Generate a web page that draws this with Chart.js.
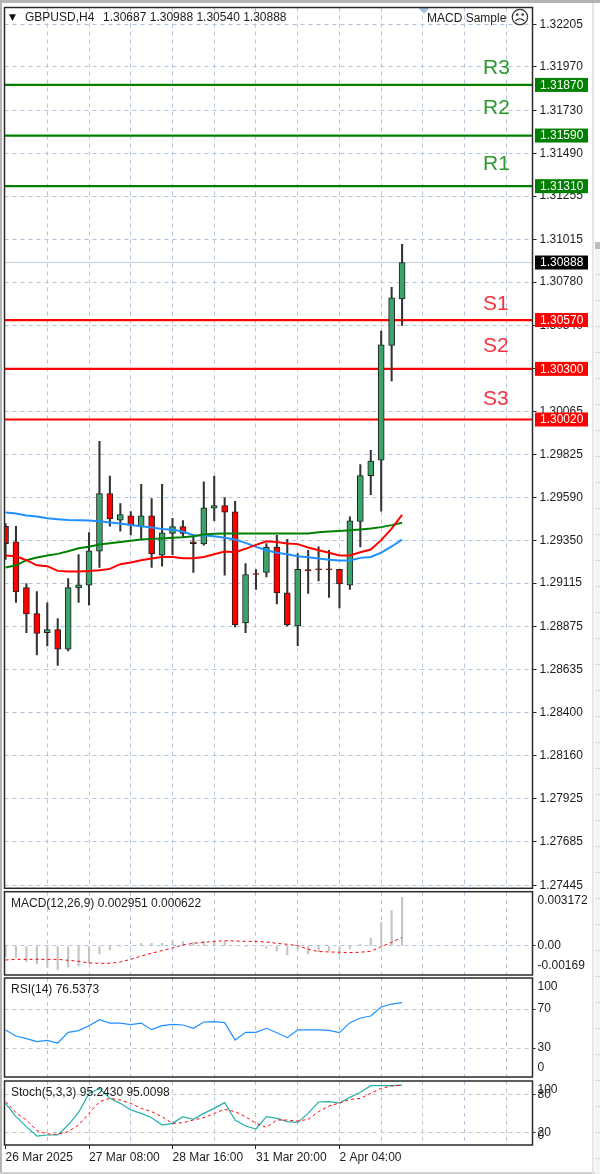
<!DOCTYPE html>
<html>
  <head>
    <meta charset="utf-8">
    <title>GBPUSD H4</title>
    <script src="https://cdn.jsdelivr.net/npm/chart.js@4"></script>
    <style>
      html, body { margin: 0; padding: 0; background: #fff; }
      #page { position: relative; width: 600px; height: 1174px; overflow: hidden; background: #fff; }
      #page canvas { position: absolute; left: 0; top: 0; }
      .edge { position: absolute; }
      #edge_top { left: 0; top: 0; width: 600px; height: 3px; background: #b4b4b4; }
      #edge_left { left: 0; top: 0; width: 2px; height: 1174px; background: #b4b4b4; }
      #edge_bottom { left: 0; top: 1172px; width: 600px; height: 2px; background: #d0d0d0; }
      #edge_right { left: 592px; top: 3px; width: 2px; height: 1171px; background: #e6e6e6; }
      #side { left: 595px; top: 249px; width: 5px; height: 925px; background: repeating-linear-gradient(#eef7f1 0, #eef7f1 25px, #d8dcd9 25px, #d8dcd9 26px); }
      #side_thumb { left: 595px; top: 242px; width: 5px; height: 7px; background: #bdbdbd; }
    </style>
  </head>
  <body>
    <div id="page">
      <div class="edge" id="edge_top"></div>
      <div class="edge" id="edge_left"></div>
      <div class="edge" id="edge_bottom"></div>
      <div class="edge" id="edge_right"></div>
      <div class="edge" id="side"></div>
      <div class="edge" id="side_thumb"></div>
      <canvas id="main_pane" width="600" height="1174"></canvas>
      <canvas id="macd_pane" width="600" height="1174"></canvas>
      <canvas id="rsi_pane" width="600" height="1174"></canvas>
      <canvas id="stoch_pane" width="600" height="1174"></canvas>
    </div>

    <script type="text/javascript">
      // candles, one entry per H4 bar
      var opens = [1.29430, 1.29343, 1.29091, 1.28947, 1.28842, 1.28859, 1.28750, 1.29089, 1.29104, 1.29292, 1.29611, 1.29463, 1.29487, 1.29426, 1.29487, 1.29270, 1.29390, 1.29428, 1.29343, 1.29332, 1.29530, 1.29544, 1.29509, 1.28895, 1.29168, 1.29174, 1.29314, 1.29061, 1.28879, 1.29190, 1.29194, 1.29194, 1.29192, 1.29104, 1.29456, 1.29710, 1.29795, 1.30430, 1.30687];
      var highs = [1.29445, 1.29430, 1.29113, 1.29069, 1.29006, 1.28919, 1.29141, 1.29273, 1.29395, 1.29900, 1.29707, 1.29555, 1.29511, 1.29661, 1.29583, 1.29661, 1.29474, 1.29461, 1.29384, 1.29675, 1.29707, 1.29589, 1.29568, 1.29224, 1.29190, 1.29334, 1.29380, 1.29358, 1.29279, 1.29297, 1.29316, 1.29297, 1.29192, 1.29482, 1.29771, 1.29850, 1.30509, 1.30751, 1.30988];
      var lows = [1.29246, 1.29008, 1.28842, 1.28719, 1.28768, 1.28661, 1.28741, 1.29008, 1.28993, 1.29202, 1.29430, 1.29402, 1.29382, 1.29358, 1.29202, 1.29209, 1.29272, 1.29371, 1.29174, 1.29325, 1.29461, 1.29159, 1.28873, 1.28842, 1.29080, 1.29150, 1.29001, 1.28879, 1.28770, 1.29058, 1.29128, 1.29036, 1.28978, 1.29080, 1.29316, 1.29605, 1.29513, 1.30234, 1.30540];
      var closes = [1.29334, 1.29067, 1.28945, 1.28837, 1.28859, 1.28750, 1.29091, 1.29106, 1.29294, 1.29611, 1.29471, 1.29495, 1.29436, 1.29487, 1.29277, 1.29393, 1.29428, 1.29390, 1.29334, 1.29531, 1.29544, 1.29508, 1.28884, 1.29163, 1.29163, 1.29314, 1.29061, 1.28884, 1.29192, 1.29183, 1.29190, 1.29190, 1.29111, 1.29460, 1.29710, 1.29790, 1.30433, 1.30693, 1.30888];

      // moving averages on the price pane
      var maBlue = [1.29506, 1.29500, 1.29489, 1.29484, 1.29474, 1.29469, 1.29465, 1.29463, 1.29461, 1.29458, 1.29450, 1.29445, 1.29437, 1.29430, 1.29423, 1.29415, 1.29410, 1.29401, 1.29380, 1.29378, 1.29375, 1.29366, 1.29356, 1.29338, 1.29316, 1.29297, 1.29283, 1.29275, 1.29264, 1.29259, 1.29251, 1.29244, 1.29240, 1.29240, 1.29255, 1.29260, 1.29284, 1.29318, 1.29356];
      var maGreen = [1.29202, 1.29214, 1.29242, 1.29257, 1.29268, 1.29277, 1.29292, 1.29308, 1.29316, 1.29329, 1.29336, 1.29343, 1.29349, 1.29356, 1.29360, 1.29362, 1.29366, 1.29369, 1.29375, 1.29384, 1.29388, 1.29390, 1.29390, 1.29390, 1.29390, 1.29390, 1.29390, 1.29390, 1.29390, 1.29390, 1.29397, 1.29401, 1.29404, 1.29408, 1.29412, 1.29417, 1.29425, 1.29436, 1.29449];
      var maRed = [1.29268, 1.29264, 1.29242, 1.29214, 1.29209, 1.29183, 1.29179, 1.29179, 1.29183, 1.29187, 1.29194, 1.29220, 1.29229, 1.29242, 1.29251, 1.29260, 1.29260, 1.29253, 1.29253, 1.29260, 1.29275, 1.29290, 1.29286, 1.29305, 1.29327, 1.29347, 1.29343, 1.29334, 1.29331, 1.29312, 1.29297, 1.29283, 1.29268, 1.29268, 1.29286, 1.29301, 1.29353, 1.29417, 1.29493];

      // indicators
      var macdHist = [-0.00065, -0.00069, -0.00095, -0.00109, -0.00129, -0.00145, -0.00129, -0.00121, -0.00105, -0.00048, -0.00024, -0.00004, -0.00002, 0.00016, 0.00016, 0.00016, 0.00030, 0.00026, 0.00022, 0.00030, 0.00030, 0.00028, 0.00002, -0.00004, 0, -0.00014, -0.00030, -0.00055, -0.00020, -0.00048, -0.00034, -0.00028, -0.00055, -0.00018, 0.00010, 0.00048, 0.00143, 0.00214, 0.00295];
      var macdSignal = [-0.00085, -0.00081, -0.00081, -0.00081, -0.00081, -0.00081, -0.00087, -0.00093, -0.00103, -0.00105, -0.00105, -0.00097, -0.00081, -0.00061, -0.00044, -0.00028, -0.00012, 0.00006, 0.00016, 0.00022, 0.00028, 0.00032, 0.00030, 0.00028, 0.00028, 0.00024, 0.00016, 0.00010, 0.00002, -0.00020, -0.00034, -0.00036, -0.00038, -0.00040, -0.00038, -0.00032, -0.00004, 0.00022, 0.00052];
      var rsiValues = [48.5, 42.3, 39.6, 36.5, 37.9, 35.1, 46.1, 47.8, 52.9, 59.1, 55.6, 55.6, 53.9, 55.6, 48.8, 52.9, 54.3, 53.6, 50.2, 56.7, 57.0, 56.0, 38.2, 46.1, 46.1, 50.2, 45.7, 40.6, 48.5, 48.5, 48.5, 48.1, 45.7, 56.0, 60.8, 62.8, 72.1, 75.1, 76.5];
      var stochK = [66.3, 45.3, 29.5, 14.7, 16.3, 16.3, 32.1, 52.1, 82.1, 90.0, 74.2, 66.3, 55.8, 50.5, 43.7, 32.1, 34.7, 45.3, 41.1, 50.5, 58.4, 67.4, 40.0, 30.5, 25.8, 45.3, 42.6, 37.4, 36.3, 50.5, 68.4, 68.9, 66.8, 75.8, 83.7, 94.2, 94.2, 94.2, 95.2];
      var stochD = [68.9, 51.6, 40.0, 23.2, 17.9, 17.4, 21.6, 32.1, 50.5, 68.9, 74.2, 71.6, 66.3, 58.4, 53.2, 45.3, 34.7, 35.8, 40.0, 43.7, 50.5, 56.8, 53.2, 45.3, 34.7, 28.4, 40.0, 40.0, 38.4, 41.1, 53.2, 62.1, 66.8, 72.6, 74.2, 82.1, 90.0, 93.7, 95.0];

      // levels
      var resistanceNames = ["R3", "R2", "R1"];
      var resistanceLevels = [1.31870, 1.31590, 1.31310];
      var resistanceNameAt = [1.31965, 1.31741, 1.31431];
      var supportNames = ["S1", "S2", "S3"];
      var supportLevels = [1.30570, 1.30300, 1.30020];
      var supportNameAt = [1.30655, 1.30424, 1.30132];
      var lastPrice = 1.30888;

      // axes
      var priceTicks = [1.32205, 1.31970, 1.31730, 1.31490, 1.31255, 1.31015, 1.30780, 1.30540, 1.30300, 1.30065, 1.29825, 1.29590, 1.29350, 1.29115, 1.28875, 1.28635, 1.28400, 1.28160, 1.27925, 1.27685, 1.27445];
      var gridBars = [0, 4, 8, 12, 16, 20, 24, 28, 32, 36, 40, 44, 48];
      var dateBars = [0, 8, 16, 24, 32];
      var dateLabels = ["26 Mar 2025", "27 Mar 08:00", "28 Mar 16:00", "31 Mar 20:00", "2 Apr 04:00"];
      var macdTickValues = [0.003172, 0, -0.00169];
      var macdTickLabels = ["0.003172", "0.00", "-0.00169"];
      var rsiTickValues = [100, 70, 30, 0];
      var stochTickValues = [100, 80, 20, 0];

      var FONT = "12px 'Liberation Sans'";
      var TEXT_COLOR = "#1c1c1c";
      var GRID_BLUE = "#b0c4de";
      var GRID_GRAY = "#c6c6c6";
      var FRAME = "#2a2a2a";
      var GREEN = "#008000";
      var RED = "#ff0000";
      var BAR_MIN = -0.1, BAR_MAX = 50.5;
      var PAGE_H = 1174;

      Chart.defaults.font.family = "'Liberation Sans'";
      Chart.defaults.font.size = 12;
      Chart.defaults.color = TEXT_COLOR;

      function toPoints(values) {
        return values.map((v, i) => ({x: i, y: v}));
      }

      function flatLine(level, color, width) {
        return {
          type: "line", data: [{x: BAR_MIN, y: level}, {x: BAR_MAX, y: level}],
          borderColor: color, borderWidth: width, pointRadius: 0, order: 5
        };
      }

      function curve(values, color, width, dash) {
        return {
          type: "line", data: toPoints(values), borderColor: color, borderWidth: width,
          borderDash: dash || [], pointRadius: 0, tension: 0, order: 1
        };
      }

      function drawText(ctx, text, x, y, color, font) {
        ctx.save();
        ctx.font = font || FONT;
        ctx.fillStyle = color || TEXT_COLOR;
        ctx.textAlign = "left";
        ctx.textBaseline = "middle";
        ctx.fillText(text, x, y);
        ctx.restore();
      }

      function drawFrame(chart) {
        var a = chart.chartArea, ctx = chart.ctx;
        ctx.save();
        ctx.strokeStyle = FRAME;
        ctx.lineWidth = 1.5;
        ctx.strokeRect(a.left, a.top, a.right - a.left, a.bottom - a.top);
        ctx.restore();
      }

      // right side labels of the indicator panes stay inside their pane
      function drawSideLabels(chart, values, labels) {
        var a = chart.chartArea, yScale = chart.scales.y;
        values.forEach((v, i) => {
          var y = Math.min(Math.max(yScale.getPixelForValue(v), a.top + 9), a.bottom - 9);
          drawText(chart.ctx, labels[i], 537.5, y);
        });
      }

      function drawTag(chart, level, background) {
        var y = chart.scales.y.getPixelForValue(level), ctx = chart.ctx;
        ctx.save();
        ctx.fillStyle = background;
        ctx.fillRect(535, y - 7, 53, 14);
        ctx.restore();
        drawText(ctx, level.toFixed(5), 540, y + 0.5, "#ffffff");
      }

      function xAxis(withDates) {
        return {
          type: "linear", min: BAR_MIN, max: BAR_MAX, offset: false,
          afterBuildTicks: (scale) => { scale.ticks = gridBars.map((v) => ({value: v})); },
          afterFit: (scale) => {
            scale.height = withDates ? PAGE_H - 1145 : 0;
            scale.paddingLeft = scale.paddingRight = 0;
          },
          border: {display: false, dash: [4, 4]},
          grid: {
            offset: false, drawTicks: withDates, tickLength: 4, lineWidth: 1,
            color: (c) => c.tick && c.tick.value === 0 ? "rgba(0,0,0,0)" : GRID_BLUE,
            tickColor: (c) => c.tick && dateBars.indexOf(c.tick.value) >= 0 ? FRAME : "rgba(0,0,0,0)"
          },
          ticks: {
            display: withDates, autoSkip: false, maxRotation: 0, align: "start", padding: 1,
            callback: (v) => dateBars.indexOf(v) >= 0 ? dateLabels[dateBars.indexOf(v)] : ""
          }
        };
      }

      function yAxis(min, max, tickValues, color, showLabels) {
        return {
          position: "right", min: min, max: max,
          afterBuildTicks: (scale) => { scale.ticks = tickValues.map((v) => ({value: v})); },
          afterFit: (scale) => {
            scale.width = 67.5;
            scale.paddingTop = scale.paddingBottom = 0;
          },
          border: {display: false, dash: [4, 4]},
          grid: {color: color, tickColor: FRAME, tickLength: showLabels ? 4 : 3, lineWidth: 1},
          ticks: {
            display: showLabels, padding: 3, autoSkip: false,
            callback: (v) => v.toFixed(5)
          }
        };
      }

      function makePane(id, top, bottom, type, datasets, xScale, yScale, extraDraw) {
        return new Chart(document.getElementById(id), {
          type: type,
          data: {datasets: datasets},
          options: {
            responsive: false, animation: false, parsing: true,
            layout: {padding: {left: 4.5, right: 0, top: top, bottom: xScale.ticks.display ? 0 : PAGE_H - bottom}},
            plugins: {legend: {display: false}, tooltip: {enabled: false}},
            scales: {x: xScale, y: yScale}
          },
          plugins: [{id: "pane_" + id, afterDraw: (chart) => { extraDraw(chart); drawFrame(chart); }}]
        });
      }

      var wicks = {
        type: "bar", grouped: false, barThickness: 1.4, order: 4,
        data: highs.map((h, i) => ({x: i, y: [lows[i], h]})),
        backgroundColor: "#333333", borderWidth: 0
      };
      var bodies = {
        type: "bar", grouped: false, barThickness: 6, order: 3,
        data: opens.map((o, i) => ({x: i, y: [o, closes[i]]})),
        backgroundColor: opens.map((o, i) => closes[i] >= o ? "#3ca36a" : RED),
        borderColor: "#1f1f1f", borderWidth: 1, borderSkipped: false
      };

      var mainDatasets = [bodies, wicks,
        curve(maRed, RED, 2), curve(maGreen, GREEN, 2), curve(maBlue, "#1e90ff", 2),
        flatLine(lastPrice, "#c5d3e6", 1.2)];
      resistanceLevels.forEach((l) => mainDatasets.push(flatLine(l, GREEN, 2.2)));
      supportLevels.forEach((l) => mainDatasets.push(flatLine(l, RED, 2.2)));

      makePane("main_pane", 7.5, 888.3, "bar", mainDatasets, xAxis(false),
        yAxis(1.27428, 1.32298, priceTicks, GRID_BLUE, true), function(chart) {
          var ctx = chart.ctx, yScale = chart.scales.y;
          resistanceLevels.forEach((l) => drawTag(chart, l, GREEN));
          supportLevels.forEach((l) => drawTag(chart, l, RED));
          drawTag(chart, lastPrice, "#000000");
          resistanceNames.forEach((n, i) => {
            drawText(ctx, n, 483, yScale.getPixelForValue(resistanceNameAt[i]), "#2f9a2f", "21px 'Liberation Sans'");
          });
          supportNames.forEach((n, i) => {
            drawText(ctx, n, 483, yScale.getPixelForValue(supportNameAt[i]), "#f5333f", "21px 'Liberation Sans'");
          });
          drawText(ctx, "\u25BC", 9, 18, "#111111", "9px 'DejaVu Sans'");
          drawText(ctx, "GBPUSD,H4", 25, 18);
          drawText(ctx, "1.30687 1.30988 1.30540 1.30888", 103, 18);
          drawText(ctx, "MACD Sample", 427, 19);
          drawText(ctx, "\u2639", 510, 19, "#333333", "19px 'DejaVu Sans'");
          ctx.save();
          ctx.fillStyle = "#a9bfdc";
          ctx.beginPath();
          ctx.moveTo(418.5, 8);
          ctx.lineTo(429.5, 8);
          ctx.lineTo(424, 14);
          ctx.fill();
          ctx.restore();
        });

      makePane("macd_pane", 891.7, 975, "bar", [
        {type: "bar", grouped: false, barThickness: 1.5, order: 3, backgroundColor: "#c4c4c4",
          data: macdHist.map((v, i) => ({x: i, y: [0, v]}))},
        curve(macdSignal, RED, 1, [3, 3])
      ], xAxis(false), yAxis(-0.00176, 0.00329, [0], GRID_BLUE, false), function(chart) {
        drawText(chart.ctx, "MACD(12,26,9) 0.002951 0.000622", 11, 903.5);
        drawSideLabels(chart, macdTickValues, macdTickLabels);
      });

      makePane("rsi_pane", 978, 1077, "line", [
        curve(rsiValues, "#1e90ff", 1.2)
      ], xAxis(false), yAxis(0.26, 101.8, [70, 30], GRID_GRAY, false), function(chart) {
        drawText(chart.ctx, "RSI(14) 76.5373", 11, 989.5);
        drawSideLabels(chart, rsiTickValues, rsiTickValues.map(String));
      });

      makePane("stoch_pane", 1081, 1145, "line", [
        curve(stochD, RED, 1, [3, 3]),
        curve(stochK, "#20b2aa", 1.2)
      ], xAxis(true), yAxis(0.54, 101.6, [80, 20], GRID_GRAY, false), function(chart) {
        drawText(chart.ctx, "Stoch(5,3,3) 95.2430 95.0098", 11, 1092.5);
        drawSideLabels(chart, stochTickValues, stochTickValues.map(String));
      });
    </script>
  </body>
</html>
